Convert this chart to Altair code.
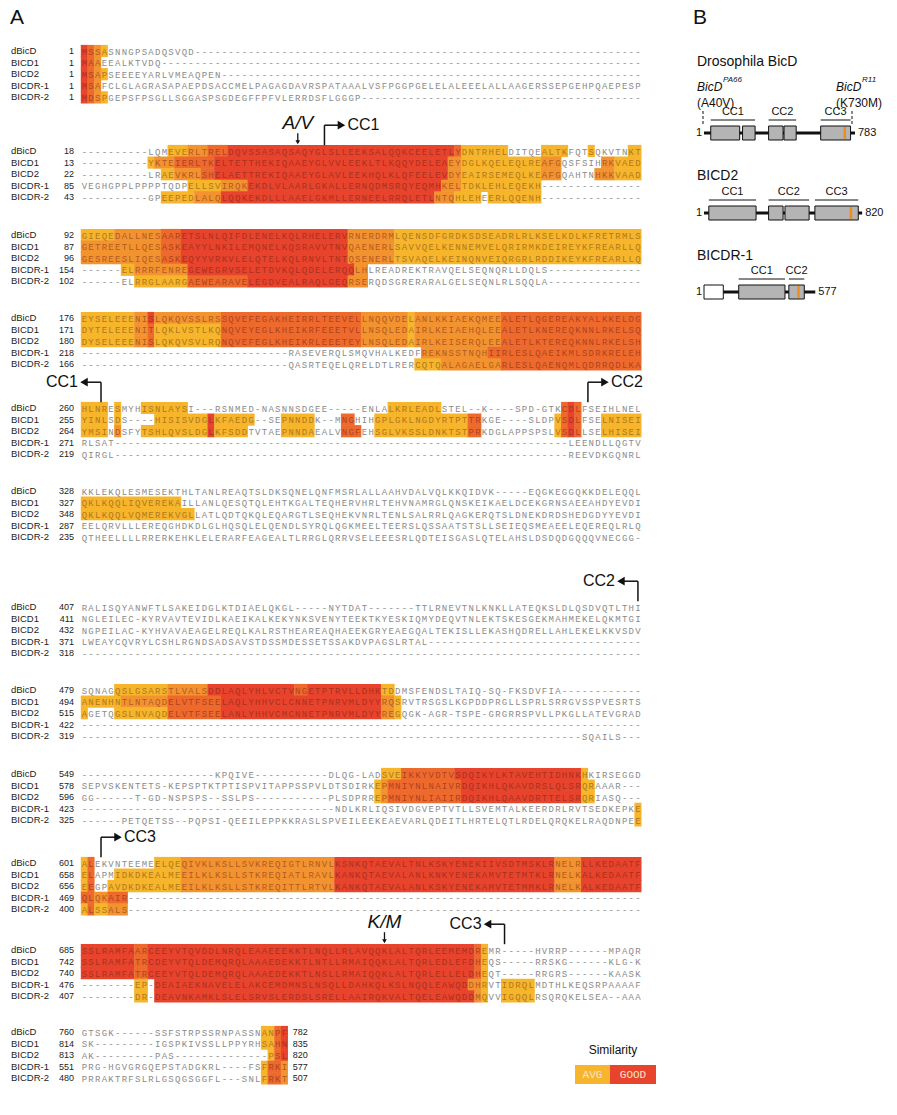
import altair as alt
import pandas as pd

# ---------------------------------------------------------------- data
NAMES = ["dBicD", "BICD1", "BICD2", "BICDR-1", "BICDR-2"]

BLOCK_START = [
    [1, 1, 1, 1, 1],
    [18, 13, 22, 85, 43],
    [92, 87, 96, 154, 102],
    [176, 171, 180, 218, 166],
    [260, 255, 264, 271, 219],
    [328, 327, 348, 287, 235],
    [407, 411, 432, 371, 318],
    [479, 494, 515, 422, 319],
    [549, 578, 596, 423, 325],
    [601, 658, 656, 469, 400],
    [685, 742, 740, 476, 407],
    [760, 814, 813, 551, 480],
]
END_NUM = [782, 835, 820, 577, 507]

SEQ_01 = [
    "MSSASNNGPSADQSVQD",
    "MAAEEALKTVDQ",
    "MSAPSEEEEYARLVMEAQPEN",
    "MSAFCLGLAGRASAPAEPDSACCMELPAGAGDAVRSPATAAALVSFPGGPGELELALEEELALLAAGERSSEPGEHPQAEPESP",
    "MDSPGEPSFPSGLLSGGASPSGDEGFFPFVLERRDSFLGGGP",
]
SEQ_02 = [
    "----------LQMEVERLTRELDQVSSASAQSAQYGLSLLEEKSALQQKCEELETLYDNTRHELDITQEALTKFQTSQKVTNKT",
    "----------YKTEIERLTKELTETTHEKIQAAEYGLVVLEEKLTLKQQYDELEAEYDGLKQELEQLREAFGQSFSIHRKVAED",
    "----------LRAEVKRLSHELAETTREKIQAAEYGLAVLEEKHQLKLQFEELEVDYEAIRSEMEQLKEAFGQAHTNHKKVAAD",
    "VEGHGPPLPPPPTQDPELLSVIRQKEKDLVLAARLGKALLERNQDMSRQYEQMHKELTDKLEHLEQEKH",
    "----------GPEEPEDLALQLQQKEKDLLLAAELGKMLLERNEELRRQLETLNTQHLEHEERLQQENH",
]
SEQ_03 = [
    "GIEQEDALLNESAARETSLNLQIFDLENELKQLRHELERVRNERDRMLQENSDFGRDKSDSEADRLRLKSELKDLKFRETRMLS",
    "GETREETLLQESASKEAYYLNKILEMQNELKQSRAVVTNVQAENERLSAVVQELKENNEMVELQRIRMKDEIREYKFREARLLQ",
    "GESREESLIQESASKEQYYVRKVLELQTELKQLRNVLTNTQSENERLTSVAQELKEINQNVEIQRGRLRDDIKEYKFREARLLQ",
    "------ELRRRFENREGEWEGRVSELETDVKQLQDELERQQLHLREADREKTRAVQELSEQNQRLLDQLS",
    "------ELRRGLAARGAEWEARAVELEGDVEALRAQLGEQRSERQDSGRERARALGELSEQNLRLSQQLA",
]
SEQ_04 = [
    "EYSELEEENISLQKQVSSLRSSQVEFEGAKHEIRRLTEEVELLNQQVDELANLKKIAEKQMEEALETLQGEREAKYALKKELDG",
    "DYTELEEENITLQKLVSTLKQNQVEYEGLKHEIKRFEEETVLLNSQLEDAIRLKEIAEHQLEEALETLKNEREQKNNLRKELSQ",
    "DYSELEEENISLQKQVSVLRQNQVEFEGLKHEIKRLEEETEYLNSQLEDAIRLKEISERQLEEALETLKTEREQKNNLRKELSH",
    "-------------------------------RASEVERQLSMQVHALKEDFREKNSSTNQHIIRLESLQAEIKMLSDRKRELEH",
    "-------------------------------QASRTEQELQRELDTLRERCQTQALAGAELGARLESLQAENQMLQDRRQDLKA",
]
SEQ_05 = [
    "HLNRESMYHISNLAYSI---RSNMED-NASNNSDGEE-----ENLALKRLEADLSTEL--K----SPD-GTKCDLFSEIHLNEL",
    "YINLSDS----HISISVDGLKFAEDG--SEPNNDDK--MNGHIHGPLGKLNGDYRTPTTRKGE----SLDPVSDLFSELNISEI",
    "YMSINDSFYTSHLQVSLDGLKFSDDTVTAEPNNDAEALVNGFEHSGLVKSSLDNKTSTPRKDGLAPPSPSLVSDLLSELHISEI",
    "RLSAT--------------------------------------------------------------------LEENDLLQGTV",
    "QIRGL--------------------------------------------------------------------REEVDKGQNRL",
]
SEQ_06 = [
    "KKLEKQLESMESEKTHLTANLREAQTSLDKSQNELQNFMSRLALLAAHVDALVQLKKQIDVK-----EQGKEGGQKKDELEQQL",
    "QKLKQQLIQVEREKAILLANLQESQTQLEHTKGALTEQHERVHRLTEHVNAMRGLQNSKEIKAELDCEKGRNSAEEAHDYEVDI",
    "QKLKQQLVQMEREKVGLLATLQDTQKQLEQARGTLSEQHEKVNRLTENLSALRRLQAGKERQTSLDNEKDRDSHEDGDYYEVDI",
    "EELQRVLLLEREQGHDKDLGLHQSQLELQENDLSYRQLQGKMEELTEERSLQSSAATSTSLLSEIEQSMEAEELEQEREQLRLQ",
    "QTHEELLLLRRERKEHKLELERARFEAGEALTLRRGLQRRVSELEEESRLQDTEISGASLQTELAHSLDSDQDGQQQVNECGG",
]
SEQ_07 = [
    "RALISQYANWFTLSAKEIDGLKTDIAELQKGL-----NYTDAT-------TTLRNEVTNLKNKLLATEQKSLDLQSDVQTLTHI",
    "NGLEILEC-KYRVAVTEVIDLKAEIKALKEKYNKSVENYTEEKTKYESKIQMYDEQVTNLEKTSKESGEKMAHMEKELQKMTGI",
    "NGPEILAC-KYHVAVAEAGELREQLKALRSTHEAREAQHAEEKGRYEAEGQALTEKISLLEKASHQDRELLAHLEKELKKVSDV",
    "LWEAYCQVRYLCSHLRGNDSADSAVSTDSSMDESSETSSAKDVPAGSLRTAL",
    "",
]
SEQ_08 = [
    "SQNAGQSLGSARSTLVALSDDLAQLYHLVCTVNGETPTRVLLDHKTDDMSFENDSLTAIQ-SQ-FKSDVFIA",
    "ANENHNTLNTAQDELVTFSEELAQLYHHVCLCNNETPNRVMLDYYRQSRVTRSGSLKGPDDPRGLLSPRLSRRGVSSPVESRTS",
    "AGETQGSLNVAQDELVTFSEELANLYHHVCMCNNETPNRVMLDYYREGQGK-AGR-TSPE-GRGRRSPVLLPKGLLATEVGRAD",
    "",
    "---------------------------------------------------------------------------SQAILS",
]
SEQ_09 = [
    "--------------------KPQIVE-----------DLQG-LADSVEIKKYVDTVSDQIKYLKTAVEHTIDHNKHKIRSEGGD",
    "SEPVSKENTETS-KEPSPTKTPTISPVITAPPSSPVLDTSDIRKEPMNIYNLNAIVRDQIKHLQKAVDRSLQLSRQRAAAR",
    "GG------T-GD-NSPSPS--SSLPS-----------PLSDPRREPMNIYNLIAIIRDQIKHLQAAVDRTTELSRQRIASQ",
    "--------------------------------------NDLKRLIQSIVDGVEPTVTLLSVEMTALKEERDRLRVTSEDKEPKE",
    "------PETQETSS--PQPSI-QEEILEPPKKRASLSPVEILEEKEAEVARLQDEITLHRTELQTLRDELQRQKELRAQDNPEE",
]
SEQ_10 = [
    "ALEKVNTEEMEELQEQIVKLKSLLSVKREQIGTLRNVLKSNKQTAEVALTNLKSKYENEKIIVSDTMSKLRNELRLLKEDAATF",
    "ELAPMIDKDKEALMEEILKLKSLLSTKREQIATLRAVLKANKQTAEVALANLKNKYENEKAMVTETMTKLRNELKALKEDAATF",
    "EEGPAVDKDKEALMEEILKLKSLLSTKREQITTLRTVLKANKQTAEVALANLKSKYENEKAMVTETMMKLRNELKALKEDAATF",
    "QLQKAIR",
    "ALSSALS",
]
SEQ_11 = [
    "SSLRAMFAARCEEYVTQVDDLNRQLEAAEEEKKTLNQLLRLAVQQKLALTQRLEEMEMDREMR-----HVRRP------MPAQR",
    "SSLRAMFATRCDEYVTQLDEMQRQLAAAEDEKKTLNTLLRMAIQQKLALTQRLEDLEFDHEQS-----RRSKG------KLG-K",
    "SSLRAMFATRCEEYVTQLDEMQRQLAAAEDEKKTLNSLLRMAIQQKLALTQRLELLELDHEQT-----RRGRS------KAASK",
    "--------EP-DEAIAEKNAVELELAKCEMDMNSLNSQLLDAHKQLKSLNQQLEAWQDDHRVTIDRQLMDTHLKEQSRPAAAAF",
    "--------DR-DEAVNKAMKLSLELSRVSLERDSLSRELLAAIRQKVALTQELEAWQDDMQVVIGQQLRSQRQKELSEA--AAA",
]
SEQ_12 = [
    "GTSGK------SSFSTRPSSRNPASSNANPF",
    "SK---------IGSPKIVSSLLPPYRHSAHN",
    "AK---------PAS--------------PSL",
    "PRG-HGVGRGQEPSTADGKRL----FSFRKI",
    "PRRAKTRFSLRLGSQGSGGFL---SNLFRKT",
]
SEQS = [SEQ_01, SEQ_02, SEQ_03, SEQ_04, SEQ_05, SEQ_06,
        SEQ_07, SEQ_08, SEQ_09, SEQ_10, SEQ_11, SEQ_12]

# similarity runs per row: (first column, end column, level 1=AVG .. 4=GOOD)
SIM_01 = [[(0, 1, 4), (1, 2, 3), (2, 3, 2), (3, 4, 1)],
          [(0, 1, 4), (1, 2, 3), (2, 3, 2)],
          [(0, 1, 4), (1, 2, 3), (2, 3, 2), (3, 4, 1)],
          [(0, 1, 4), (1, 2, 3), (2, 3, 2)],
          [(0, 1, 4), (1, 2, 3), (2, 3, 2), (3, 4, 1)]]
SIM_02 = [[(13, 16, 1), (16, 19, 2), (19, 22, 3), (22, 56, 4), (56, 57, 3), (57, 64, 1), (69, 73, 1), (76, 77, 1), (82, 84, 1)],
          [(10, 11, 1), (11, 14, 2), (14, 20, 3), (20, 55, 4), (55, 57, 2), (57, 69, 1), (69, 72, 2), (78, 80, 2), (80, 84, 1)],
          [(12, 14, 1), (14, 18, 2), (18, 20, 3), (20, 55, 4), (55, 57, 2), (57, 69, 1), (69, 72, 2), (77, 80, 2), (80, 84, 1)],
          [(16, 21, 1), (21, 25, 2), (25, 54, 4), (54, 57, 2), (57, 69, 1)],
          [(12, 17, 1), (17, 21, 2), (21, 53, 4), (53, 56, 2), (56, 60, 1), (61, 69, 1)]]
SIM_03 = [[(0, 5, 1), (5, 12, 2), (12, 15, 3), (15, 40, 4), (40, 47, 2), (47, 84, 1)],
          [(0, 12, 2), (12, 15, 3), (15, 40, 4), (40, 47, 2), (47, 84, 1)],
          [(0, 12, 2), (12, 15, 3), (15, 40, 4), (40, 47, 2), (47, 84, 1)],
          [(6, 8, 1), (8, 16, 2), (16, 41, 4), (41, 43, 2)],
          [(8, 16, 1), (16, 25, 3), (25, 40, 4), (40, 43, 2)]]
SIM_04 = [[(0, 8, 1), (8, 10, 2), (10, 11, 4), (11, 21, 2), (21, 42, 3), (42, 49, 2), (49, 50, 1), (50, 63, 2), (63, 84, 3)],
          [(0, 8, 1), (8, 10, 2), (10, 11, 3), (11, 21, 1), (21, 42, 3), (42, 49, 2), (49, 50, 1), (50, 63, 2), (63, 84, 3)],
          [(0, 8, 1), (8, 10, 2), (10, 11, 3), (11, 21, 1), (21, 42, 3), (42, 49, 2), (49, 50, 1), (50, 63, 2), (63, 84, 3)],
          [(51, 61, 2), (61, 84, 3)],
          [(50, 54, 1), (54, 63, 2), (63, 84, 3)]]
SIM_05 = [[(0, 4, 1), (5, 6, 1), (9, 16, 1), (46, 54, 1), (72, 73, 3), (73, 74, 4), (74, 75, 3)],
          [(0, 4, 1), (5, 6, 1), (11, 19, 1), (19, 20, 4), (20, 26, 1), (30, 35, 1), (39, 41, 3), (44, 58, 1), (58, 60, 3),
           (71, 72, 1), (72, 73, 3), (73, 74, 4), (74, 75, 3), (78, 84, 1)],
          [(0, 4, 1), (5, 6, 2), (9, 19, 1), (19, 20, 4), (20, 25, 1), (30, 35, 1), (39, 42, 3), (44, 58, 1), (58, 60, 3),
           (71, 72, 1), (72, 73, 3), (73, 74, 4), (74, 75, 3), (78, 84, 1)],
          [], []]
SIM_06 = [[], [(0, 15, 1)], [(0, 17, 1)], [], []]
SIM_07 = [[], [], [], [], []]
SIM_08 = [[(5, 13, 1), (13, 19, 2), (19, 32, 4), (32, 34, 3), (34, 45, 4), (45, 47, 1)],
          [(0, 6, 1), (6, 13, 2), (13, 21, 3), (21, 45, 4), (45, 47, 2), (47, 48, 1)],
          [(0, 1, 1), (5, 13, 1), (13, 21, 3), (21, 45, 4), (45, 47, 2), (47, 48, 1)],
          [], []]
SIM_09 = [[(45, 48, 1), (48, 56, 3), (56, 75, 4), (75, 76, 1)],
          [(44, 45, 1), (45, 46, 2), (46, 57, 3), (57, 75, 4), (75, 77, 1)],
          [(44, 45, 1), (45, 46, 2), (46, 57, 3), (57, 75, 4), (75, 77, 1)],
          [(83, 84, 1)], [(83, 84, 1)]]
SIM_10 = [[(0, 1, 1), (1, 2, 3), (11, 15, 1), (15, 38, 2), (38, 71, 4), (71, 75, 2), (75, 84, 4)],
          [(0, 1, 1), (1, 2, 3), (5, 15, 1), (15, 38, 2), (38, 71, 4), (71, 75, 2), (75, 84, 4)],
          [(0, 1, 1), (1, 2, 3), (4, 15, 1), (15, 38, 2), (38, 71, 4), (71, 75, 2), (75, 84, 4)],
          [(0, 2, 3), (2, 4, 2), (4, 7, 3)],
          [(0, 1, 1), (1, 2, 3), (2, 4, 1), (4, 7, 2)]]
SIM_11 = [[(0, 8, 4), (8, 10, 3), (10, 59, 4), (59, 60, 3), (60, 61, 1)],
          [(0, 8, 4), (8, 10, 3), (10, 59, 4), (59, 60, 3), (60, 61, 1)],
          [(0, 8, 4), (8, 10, 3), (10, 59, 4), (59, 60, 3), (60, 61, 1)],
          [(8, 10, 1), (11, 58, 4), (58, 60, 2), (60, 61, 1), (63, 68, 1)],
          [(8, 10, 1), (11, 59, 4), (59, 60, 2), (60, 61, 1), (63, 68, 1)]]
SIM_12 = [[(27, 29, 1), (29, 30, 3), (30, 31, 4)],
          [(27, 29, 1), (29, 30, 3), (30, 31, 4)],
          [(28, 29, 1), (29, 30, 3), (30, 31, 4)],
          [(27, 28, 1), (28, 30, 3), (30, 31, 2)],
          [(27, 28, 1), (28, 30, 3), (30, 31, 2)]]
SIMS = [SIM_01, SIM_02, SIM_03, SIM_04, SIM_05, SIM_06,
        SIM_07, SIM_08, SIM_09, SIM_10, SIM_11, SIM_12]

# annotations on the alignment: (block, column, text)
MUTATIONS = [(1, 32, "A/V"), (10, 45, "K/M")]
# (block, column, direction, label)
CC_MARKS = [(1, 36.5, "right", "CC1"), (4, 3.0, "left", "CC1"), (4, 76.0, "right", "CC2"),
            (6, 83.5, "left", "CC2"), (9, 3.0, "right", "CC3"), (10, 63.5, "left", "CC3")]

# panel B
PROT_TITLE = ["Drosophila BicD", "BICD2", "BICDR-1"]
PROT_LEN = [783, 820, 577]
PROT_BOXES = [[(35, 185), (200, 265), (335, 410), (415, 478), (605, 760)],
              [(25, 270), (335, 410), (420, 545), (575, 800)],
              [(180, 420), (440, 520)]]
PROT_OPEN = [[], [], [(0, 100)]]
PROT_STRIPE = [[730], [762], [490]]
PROT_CC = [[("CC1", 35, 265), ("CC2", 335, 478), ("CC3", 605, 760)],
           [("CC1", 25, 270), ("CC2", 335, 545), ("CC3", 575, 800)],
           [("CC1", 180, 420), ("CC2", 440, 520)]]
ALLELES = [("BicD", "PA66", "(A40V)"), ("BicD", "R11", "(K730M)")]

# ---------------------------------------------------------------- layout
W, H = 881, 1099
X0, CW, ROW_H = 81.0, 6.67, 11.6
BLOCK_Y = [51, 151, 235, 318, 408, 491, 607, 690, 774, 863, 950, 1032]
LABEL_X, NUM_X = 11, 74
FILL = {1: "#F6B52B", 2: "#F29330", 3: "#EE6A2C", 4: "#E8432C"}
TXT = {0: "#8A8A8A", 1: "#B0781E", 2: "#B25A22", 3: "#AE4222", 4: "#A8321F"}
PB_X0, PB_K = 704.0, 151.0 / 783
PROT_Y = [133, 213, 292]
TITLE_Y = [62, 176, 256]
ALLELE_X = [697, 836]
ALLELE_DASH_X = [703, 852]

XS = alt.Scale(domain=[8, 8 + W], nice=False, zero=False)
YS = alt.Scale(domain=[8, 8 + H], nice=False, zero=False, reverse=True)


def colx(c):
    return X0 + c * CW


cells, rects, labels, nums = [], [], [], []
for b, seqs in enumerate(SEQS):
    width = 31 if b == 11 else 84
    for r, s in enumerate(seqs):
        s = s.ljust(width, "-")
        yc = BLOCK_Y[b] + r * ROW_H
        lev = [0] * width
        for (a, e, l) in SIMS[b][r]:
            for c in range(a, e):
                lev[c] = l
            rects.append(dict(x=colx(a) - 0.2, x2=colx(e) + 0.2, y=yc - ROW_H / 2 - 0.3,
                              y2=yc + ROW_H / 2 + 0.3, f=FILL[l]))
        for c, ch in enumerate(s):
            cells.append(dict(x=colx(c + 0.5), y=yc + 0.5, t=ch, tc=TXT[lev[c]]))
        labels.append(dict(x=LABEL_X, y=yc, t=NAMES[r]))
        nums.append(dict(x=NUM_X, y=yc, t=str(BLOCK_START[b][r]), side="L"))
        if b == 11:
            nums.append(dict(x=colx(31) + 5, y=yc, t=str(END_NUM[r]), side="R"))

df_cells = pd.DataFrame(cells)
df_rects = pd.DataFrame(rects)
df_labels = pd.DataFrame(labels)
df_nums = pd.DataFrame(nums)


def text_layer(df, **kw):
    return alt.Chart(df).mark_text(**kw).encode(
        x=alt.X("x:Q", scale=XS, axis=None), y=alt.Y("y:Q", scale=YS, axis=None), text="t:N")


def rule_layer(df, **kw):
    return alt.Chart(df).mark_rule(**kw).encode(
        x=alt.X("x:Q", scale=XS, axis=None), y=alt.Y("y:Q", scale=YS, axis=None),
        x2="x2:Q", y2="y2:Q")


def point_layer(df, **kw):
    return alt.Chart(df).mark_point(**kw).encode(
        x=alt.X("x:Q", scale=XS, axis=None), y=alt.Y("y:Q", scale=YS, axis=None))


layers = []
layers.append(alt.Chart(df_rects).mark_rect(strokeWidth=0).encode(
    x=alt.X("x:Q", scale=XS, axis=None), x2="x2:Q",
    y=alt.Y("y:Q", scale=YS, axis=None), y2="y2:Q",
    color=alt.Color("f:N", scale=None)))
layers.append(alt.Chart(df_cells).mark_text(font="Liberation Mono", fontSize=9, baseline="middle").encode(
    x=alt.X("x:Q", scale=XS, axis=None), y=alt.Y("y:Q", scale=YS, axis=None),
    text="t:N", color=alt.Color("tc:N", scale=None)))
layers.append(text_layer(df_labels, font="Liberation Sans", fontSize=9.5, align="left",
                         baseline="middle", color="#222"))
layers.append(text_layer(df_nums[df_nums.side == "L"], font="Liberation Sans", fontSize=9, align="right",
                         baseline="middle", color="#222"))
layers.append(text_layer(df_nums[df_nums.side == "R"], font="Liberation Sans", fontSize=9, align="left",
                         baseline="middle", color="#222"))

# ---- mutation arrows
mut_txt, mut_rule, mut_head = [], [], []
for (b, c, t) in MUTATIONS:
    xc = colx(c + 0.5)
    top = BLOCK_Y[b] - ROW_H / 2
    mut_txt.append(dict(x=xc, y=top - 22, t=t))
    mut_rule.append(dict(x=xc, x2=xc, y=top - 12, y2=top - 3))
    mut_head.append(dict(x=xc, y=top - 3))
layers.append(text_layer(pd.DataFrame(mut_txt), font="Liberation Sans", fontSize=19, fontStyle="italic",
                         align="center", baseline="middle", color="#111"))
layers.append(rule_layer(pd.DataFrame(mut_rule), color="#111", strokeWidth=1.3))
layers.append(point_layer(pd.DataFrame(mut_head), shape="triangle-down", filled=True, size=22,
                          color="#111", opacity=1))

# ---- coiled-coil start / end brackets
cc_rule, cc_head_r, cc_head_l, cc_txt_r, cc_txt_l = [], [], [], [], []
for (b, c, d, t) in CC_MARKS:
    xv = colx(c)
    top = BLOCK_Y[b] - ROW_H / 2
    yh = top - 20
    cc_rule.append(dict(x=xv, x2=xv, y=top, y2=yh))
    if d == "right":
        cc_rule.append(dict(x=xv, x2=xv + 15, y=yh, y2=yh))
        cc_head_r.append(dict(x=xv + 17, y=yh))
        cc_txt_r.append(dict(x=xv + 23, y=yh, t=t))
    else:
        cc_rule.append(dict(x=xv, x2=xv - 15, y=yh, y2=yh))
        cc_head_l.append(dict(x=xv - 17, y=yh))
        cc_txt_l.append(dict(x=xv - 23, y=yh, t=t))
layers.append(rule_layer(pd.DataFrame(cc_rule), color="#111", strokeWidth=1.5))
layers.append(point_layer(pd.DataFrame(cc_head_r), shape="triangle-right", filled=True, size=75,
                          color="#111", opacity=1))
layers.append(point_layer(pd.DataFrame(cc_head_l), shape="triangle-left", filled=True, size=75,
                          color="#111", opacity=1))
layers.append(text_layer(pd.DataFrame(cc_txt_r), font="Liberation Sans", fontSize=16, align="left",
                         baseline="middle", color="#111"))
layers.append(text_layer(pd.DataFrame(cc_txt_l), font="Liberation Sans", fontSize=16, align="right",
                         baseline="middle", color="#111"))

# ---- panel letters
layers.append(text_layer(pd.DataFrame([dict(x=10, y=18, t="A"), dict(x=693, y=18, t="B")]),
                         font="Liberation Sans", fontSize=21, align="left", baseline="middle", color="#111"))

# ---- similarity legend
yl = BLOCK_Y[11]
leg_box = pd.DataFrame([dict(x=575, x2=610, y=yl + 33, y2=yl + 52, f=FILL[1]),
                        dict(x=610, x2=656, y=yl + 33, y2=yl + 52, f=FILL[4])])
layers.append(alt.Chart(leg_box).mark_rect().encode(
    x=alt.X("x:Q", scale=XS, axis=None), x2="x2:Q", y=alt.Y("y:Q", scale=YS, axis=None), y2="y2:Q",
    color=alt.Color("f:N", scale=None)))
layers.append(text_layer(pd.DataFrame([dict(x=592.5, y=yl + 43, t="AVG"), dict(x=633, y=yl + 43, t="GOOD")]),
                         font="Liberation Mono", fontSize=11, align="center", baseline="middle",
                         color="#F4E6D2"))
layers.append(text_layer(pd.DataFrame([dict(x=613, y=yl + 18, t="Similarity")]),
                         font="Liberation Sans", fontSize=12, align="center", baseline="middle",
                         color="#111"))


# ---- panel B: domain diagrams
def px(res):
    return PB_X0 + res * PB_K


pb_line, pb_box, pb_open, pb_stripe, pb_bar = [], [], [], [], []
pb_title, pb_cc, pb_one, pb_end = [], [], [], []
for i, L in enumerate(PROT_LEN):
    y = PROT_Y[i]
    pb_line.append(dict(x=px(0), x2=px(L), y=y, y2=y))
    for (a, e) in PROT_BOXES[i]:
        pb_box.append(dict(x=px(a), x2=px(e), y=y - 7, y2=y + 7))
    for (a, e) in PROT_OPEN[i]:
        pb_open.append(dict(x=px(a), x2=px(e), y=y - 7, y2=y + 7))
    for s in PROT_STRIPE[i]:
        pb_stripe.append(dict(x=px(s), x2=px(s), y=y - 6, y2=y + 6))
    for (t, a, e) in PROT_CC[i]:
        pb_bar.append(dict(x=px(a), x2=px(e), y=y - 13, y2=y - 13))
        pb_cc.append(dict(x=(px(a) + px(e)) / 2, y=y - 21, t=t))
    pb_title.append(dict(x=697, y=TITLE_Y[i], t=PROT_TITLE[i]))
    pb_one.append(dict(x=px(0) - 2, y=y, t="1"))
    pb_end.append(dict(x=px(L) + 3, y=y, t=str(L)))

layers.append(rule_layer(pd.DataFrame(pb_line), color="#111", strokeWidth=3))
layers.append(alt.Chart(pd.DataFrame(pb_box)).mark_rect(fill="#B4B4B4", stroke="#111", strokeWidth=1).encode(
    x=alt.X("x:Q", scale=XS, axis=None), x2="x2:Q", y=alt.Y("y:Q", scale=YS, axis=None), y2="y2:Q"))
layers.append(alt.Chart(pd.DataFrame(pb_open)).mark_rect(fill="white", stroke="#111", strokeWidth=1).encode(
    x=alt.X("x:Q", scale=XS, axis=None), x2="x2:Q", y=alt.Y("y:Q", scale=YS, axis=None), y2="y2:Q"))
layers.append(rule_layer(pd.DataFrame(pb_stripe), color="#F08C1E", strokeWidth=2.5))
layers.append(rule_layer(pd.DataFrame(pb_bar), color="#111", strokeWidth=1))
layers.append(text_layer(pd.DataFrame(pb_cc), font="Liberation Sans", fontSize=11, align="center",
                         baseline="middle", color="#111"))
layers.append(text_layer(pd.DataFrame(pb_title), font="Liberation Sans", fontSize=14, align="left",
                         baseline="middle", color="#111"))
layers.append(text_layer(pd.DataFrame(pb_one), font="Liberation Sans", fontSize=11, align="right",
                         baseline="middle", color="#111"))
layers.append(text_layer(pd.DataFrame(pb_end), font="Liberation Sans", fontSize=11, align="left",
                         baseline="middle", color="#111"))

al_name, al_sup, al_mut, al_dash = [], [], [], []
for i, (n, sup, m) in enumerate(ALLELES):
    xt = ALLELE_X[i]
    al_name.append(dict(x=xt, y=87, t=n))
    al_sup.append(dict(x=xt + 26, y=80, t=sup))
    al_mut.append(dict(x=xt, y=103, t=m))
    al_dash.append(dict(x=ALLELE_DASH_X[i], x2=ALLELE_DASH_X[i], y=111, y2=126))
layers.append(text_layer(pd.DataFrame(al_name), font="Liberation Sans", fontSize=12, fontStyle="italic",
                         align="left", baseline="middle", color="#111"))
layers.append(text_layer(pd.DataFrame(al_sup), font="Liberation Sans", fontSize=8, fontStyle="italic",
                         align="left", baseline="middle", color="#111"))
layers.append(text_layer(pd.DataFrame(al_mut), font="Liberation Sans", fontSize=12, align="left",
                         baseline="middle", color="#111"))
layers.append(rule_layer(pd.DataFrame(al_dash), color="#111", strokeWidth=1, strokeDash=[3, 2]))

chart = alt.layer(*layers).properties(width=W, height=H, padding=0, autosize="none").configure_view(stroke=None)
chart.save("out.html", embed_options={"renderer": "svg", "actions": False})
